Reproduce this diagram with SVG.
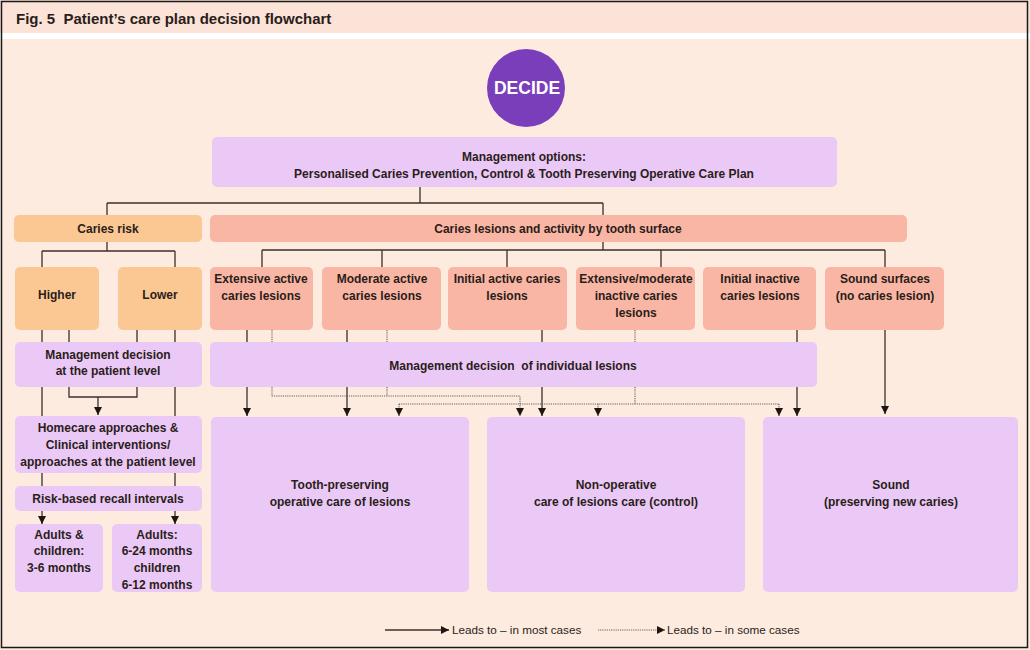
<svg xmlns="http://www.w3.org/2000/svg" width="1030" height="650" viewBox="0 0 1030 650">
<defs>
<style>
text{font-family:"Liberation Sans",Arial,sans-serif;font-weight:bold;font-size:12px;fill:#2a1d1a;text-anchor:middle}
.title{font-size:15px;text-anchor:start}
.leg{font-weight:normal;text-anchor:start;font-size:11.7px}
.dec{fill:#fff;font-size:17.5px}
.or{fill:#fbc894}
.sa{fill:#fab6a4}
.lv{fill:#eac9f6}
.s{fill:none;stroke:#3b302c;stroke-width:1.3}
.d{fill:none;stroke:#6a5e58;stroke-width:1.1;stroke-dasharray:1.2,1}
</style>
<marker id="ah" markerUnits="userSpaceOnUse" markerWidth="9" markerHeight="9" refX="8" refY="4" orient="auto">
<path d="M0,0 L8,4 L0,8 z" fill="#1e1512"/>
</marker>
</defs>
<rect x="0" y="0" width="1030" height="650" fill="#fdebe0"/>
<rect x="0" y="0" width="1030" height="33" fill="#fbe3d7"/>
<rect x="0" y="33" width="1030" height="6" fill="#ffffff"/>
<text class="title" x="16" y="24" xml:space="preserve">Fig. 5  Patient’s care plan decision flowchart</text>

<g id="decide">
<circle cx="526" cy="88" r="39" fill="#7b3eba"/>
<text class="dec" x="527" y="94">DECIDE</text>
</g>
<g id="mgmt-options">
<rect class="lv" x="212" y="137" width="625" height="50" rx="5"/>
<text x="524" y="161">Management options:</text>
<text x="524" y="178">Personalised Caries Prevention, Control &amp; Tooth Preserving Operative Care Plan</text>
</g>
<g id="caries-risk">
<rect class="or" x="14" y="215" width="188" height="27" rx="5"/>
<text x="108" y="233">Caries risk</text>
</g>
<g id="caries-lesions">
<rect class="sa" x="210" y="215" width="697" height="27" rx="5"/>
<text x="558" y="233">Caries lesions and activity by tooth surface</text>
</g>
<g id="higher">
<rect class="or" x="15" y="267" width="84" height="63" rx="5"/>
<text x="57" y="299">Higher</text>
</g>
<g id="lower">
<rect class="or" x="118" y="267" width="84" height="63" rx="5"/>
<text x="160" y="299">Lower</text>
</g>
<g id="ext-active">
<rect class="sa" x="210" y="267" width="103" height="63" rx="5"/>
<text x="261" y="283">Extensive active</text>
<text x="261" y="300">caries lesions</text>
</g>
<g id="mod-active">
<rect class="sa" x="322" y="267" width="119" height="63" rx="5"/>
<text x="382" y="283">Moderate active</text>
<text x="382" y="300">caries lesions</text>
</g>
<g id="init-active">
<rect class="sa" x="448" y="267" width="119" height="63" rx="5"/>
<text x="507" y="283">Initial active caries</text>
<text x="507" y="300">lesions</text>
</g>
<g id="ext-mod-inactive">
<rect class="sa" x="576" y="267" width="119" height="63" rx="5"/>
<text x="636" y="283">Extensive/moderate</text>
<text x="636" y="300">inactive caries</text>
<text x="636" y="317">lesions</text>
</g>
<g id="init-inactive">
<rect class="sa" x="703" y="267" width="113" height="63" rx="5"/>
<text x="760" y="283">Initial inactive</text>
<text x="760" y="300">caries lesions</text>
</g>
<g id="sound-surfaces">
<rect class="sa" x="825" y="267" width="119" height="63" rx="5"/>
<text x="885" y="283">Sound surfaces</text>
<text x="885" y="300">(no caries lesion)</text>
</g>
<g id="mgmt-patient">
<rect class="lv" x="15" y="342" width="187" height="45" rx="5"/>
<text x="108" y="359">Management decision</text>
<text x="108" y="375">at the patient level</text>
</g>
<g id="mgmt-lesions">
<rect class="lv" x="210" y="342" width="607" height="45" rx="5"/>
<text x="513" y="370" xml:space="preserve">Management decision  of individual lesions</text>
</g>
<g id="homecare">
<rect class="lv" x="15" y="416" width="187" height="57" rx="5"/>
<text x="108" y="432">Homecare approaches &amp;</text>
<text x="108" y="449">Clinical interventions/</text>
<text x="108" y="466">approaches at the patient level</text>
</g>
<g id="recall">
<rect class="lv" x="15" y="486" width="187" height="25" rx="5"/>
<text x="108" y="503">Risk-based recall intervals</text>
</g>
<g id="adults-children">
<rect class="lv" x="15" y="524" width="88" height="68" rx="5"/>
<text x="59" y="539">Adults &amp;</text>
<text x="59" y="555">children:</text>
<text x="59" y="572">3-6 months</text>
</g>
<g id="adults">
<rect class="lv" x="112" y="524" width="90" height="68" rx="5"/>
<text x="157" y="539">Adults:</text>
<text x="157" y="555">6-24 months</text>
<text x="157" y="572">children</text>
<text x="157" y="589">6-12 months</text>
</g>
<g id="tooth-preserving">
<rect class="lv" x="211" y="417" width="258" height="175" rx="5"/>
<text x="340" y="489">Tooth-preserving</text>
<text x="340" y="506">operative care of lesions</text>
</g>
<g id="non-operative">
<rect class="lv" x="487" y="417" width="258" height="175" rx="5"/>
<text x="616" y="489">Non-operative</text>
<text x="616" y="506">care of lesions care (control)</text>
</g>
<g id="sound">
<rect class="lv" x="763" y="417" width="255" height="175" rx="5"/>
<text x="891" y="489">Sound</text>
<text x="891" y="506">(preserving new caries)</text>
</g>

<g id="connectors">
<path class="s" d="M420,187V203M107,203H603M107,203V215M603,203V215"/>
<path class="s" d="M107,242V251M42,251H175M42,251V267M175,251V267"/>
<path class="s" d="M603,242V250M262,250H885M262,250V267M382,250V267M507,250V267M661,250V267M885,250V267"/>
<path class="s" d="M42,330V342M69,330V342M137,330V342M175,330V342"/>
<path class="s" d="M42,387V416M175,387V416M69,387V397H137V387"/>
<path class="s" d="M98,397V415" marker-end="url(#ah)"/>
<path class="s" d="M42,473V486M175,473V486"/>
<path class="s" d="M42,511V524" marker-end="url(#ah)"/>
<path class="s" d="M175,511V524" marker-end="url(#ah)"/>
<path class="s" d="M247,330V342M347,330V342M542,330V342M797,330V342"/>
<path class="d" d="M272,330V342M387,330V342M635,330V342"/>
<path class="s" d="M247,387V416" marker-end="url(#ah)"/>
<path class="s" d="M347,387V416" marker-end="url(#ah)"/>
<path class="s" d="M542,387V416" marker-end="url(#ah)"/>
<path class="s" d="M797,387V416" marker-end="url(#ah)"/>
<path class="s" d="M885,330V414" marker-end="url(#ah)"/>
<path class="d" d="M272,387V396H520V416" marker-end="url(#ah)"/>
<path class="d" d="M387,387V396"/>
<path class="d" d="M635,387V404M399,404H779"/>
<path class="d" d="M399,404V416" marker-end="url(#ah)"/>
<path class="d" d="M598,404V416" marker-end="url(#ah)"/>
<path class="d" d="M779,404V416" marker-end="url(#ah)"/>
</g>

<g id="legend">
<path class="s" d="M385,630H449" marker-end="url(#ah)"/>
<text class="leg" x="452" y="634">Leads to – in most cases</text>
<path class="d" d="M598,630H665" marker-end="url(#ah)"/>
<text class="leg" x="667" y="634">Leads to – in some cases</text>
</g>
<rect x="1.5" y="1.5" width="1026" height="646" fill="none" stroke="#1a1a1a" stroke-width="1.5"/>
</svg>
